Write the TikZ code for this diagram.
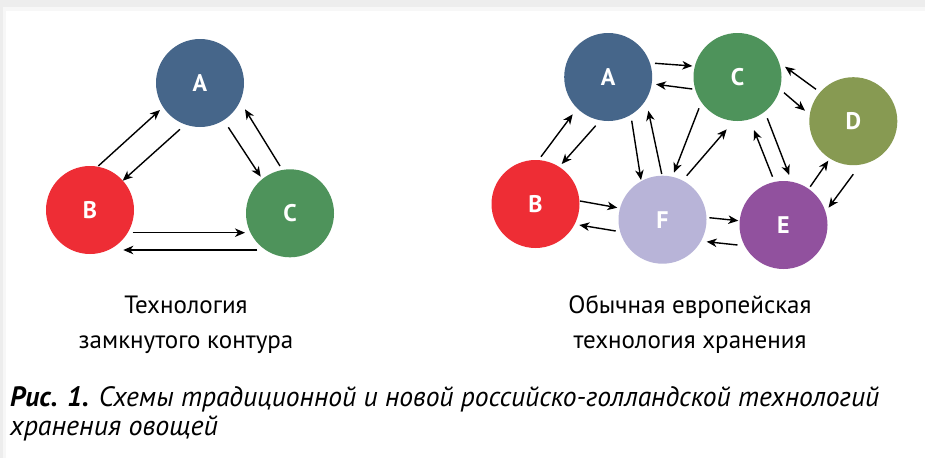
\documentclass[tikz,border=0pt]{standalone}
\usepackage{fontspec}
\setmainfont{PT Sans}
\usetikzlibrary{arrows.meta,calc}
\definecolor{cA}{HTML}{46668A}
\definecolor{cB}{HTML}{EE2D35}
\definecolor{cC}{HTML}{4E935B}
\definecolor{cD}{HTML}{879A52}
\definecolor{cE}{HTML}{91519E}
\definecolor{cF}{HTML}{B8B4D8}
\tikzset{
  ball/.style={circle,minimum size=88pt,inner sep=0pt,fill=#1,text=white,font=\fontsize{24}{24}\selectfont\bfseries},
  arr/.style={line width=1.4pt,-{Stealth[length=10pt,width=8.5pt,inset=3pt]}},
  lbl/.style={anchor=base,inner sep=0pt,font=\fontsize{25}{25}\selectfont},
  captext/.style={anchor=base west,inner sep=0pt,font=\fontsize{28}{28}\selectfont\itshape},
}
\begin{document}
\begin{tikzpicture}[x=1pt,y=-1pt]
\useasboundingbox (0,0) rectangle (925,458);
\fill[black!7] (0,0) rectangle (925,458);
\fill[black!3] (3,7) rectangle (925,458);
\fill[white] (6,11) rectangle (925,458);
% left diagram
\node[ball=cA] (lA) at (200,83) {A};
\node[ball=cB] (lB) at (90,210) {B};
\node[ball=cC] (lC) at (290,213.3) {C};
\draw[arr] ($(lB)+(8.3,-44)$) -- ($(lA)+(-40,27)$);
\draw[arr] ($(lA)+(-20,46.3)$) -- ($(lB)+(32.7,-29.3)$);
\draw[arr] ($(lA)+(28.3,44.3)$) -- ($(lC)+(-29.3,-36.6)$);
\draw[arr] ($(lC)+(-10,-47.3)$) -- ($(lA)+(45,26.3)$);
\draw[arr] ($(lB)+(42.7,22.7)$) -- ($(lC)+(-45,19.4)$);
\draw[arr] ($(lC)+(-32.7,36.7)$) -- ($(lB)+(33.3,40)$);
% right diagram
\node[ball=cA] (A) at (608.2,77) {A};
\node[ball=cC] (C) at (737.5,77) {C};
\node[ball=cD] (D) at (853.3,121.2) {D};
\node[ball=cB] (B) at (535.5,204) {B};
\node[ball=cF] (F) at (662.5,219.7) {F};
\node[ball=cE] (E) at (783.5,225) {E};
\draw[arr] ($(A)+(46.8,-13.7)$) -- ($(C)+(-45.2,-11)$);
\draw[arr] ($(C)+(-45.2,12)$) -- ($(A)+(47.8,7.3)$);
\draw[arr] ($(C)+(46.5,15.7)$) -- ($(D)+(-48.3,-10.5)$);
\draw[arr] ($(D)+(-37.3,-31.9)$) -- ($(C)+(47.5,-10.3)$);
\draw[arr] ($(B)+(5.5,-47.3)$) -- ($(A)+(-35.5,37.3)$);
\draw[arr] ($(A)+(-12.5,48.7)$) -- ($(B)+(26.2,-40)$);
\draw[arr] ($(A)+(23.5,43.7)$) -- ($(F)+(-21.5,-39.7)$);
\draw[arr] ($(F)+(-0.8,-45.7)$) -- ($(A)+(40.1,33.7)$);
\draw[arr] ($(C)+(-38.5,31.3)$) -- ($(F)+(11.5,-47)$);
\draw[arr] ($(F)+(24.2,-44)$) -- ($(C)+(-10.8,52.3)$);
\draw[arr] ($(C)+(29.8,41.3)$) -- ($(E)+(5.7,-50)$);
\draw[arr] ($(E)+(-11,-48.3)$) -- ($(C)+(16.5,53)$);
\draw[arr] ($(E)+(26.7,-38.3)$) -- ($(D)+(-25,39.5)$);
\draw[arr] ($(D)+(0,53)$) -- ($(E)+(45,-17.3)$);
\draw[arr] ($(B)+(44.5,-3)$) -- ($(F)+(-45.2,-12)$);
\draw[arr] ($(F)+(-46.8,11.3)$) -- ($(B)+(43.8,21)$);
\draw[arr] ($(F)+(46.8,-2)$) -- ($(E)+(-45.2,-4.3)$);
\draw[arr] ($(E)+(-46,20)$) -- ($(F)+(44.2,22)$);
% labels
\node[lbl] (t1a) at (186,313) {Технология};
\node[lbl] (t1b) at (186,348) {замкнутого контура};
\node[lbl] (t2a) at (690,313) {Обычная европейская};
\node[lbl] (t2b) at (690,348) {технология хранения};
\node[captext] (cap1) at (10,406) {\scalebox{0.985}[1]{\textbf{Рис. 1.} Схемы традиционной и новой российско-голландской технологий}};
\node[captext] (cap2) at (10,435) {хранения овощей};
\end{tikzpicture}
\end{document}
